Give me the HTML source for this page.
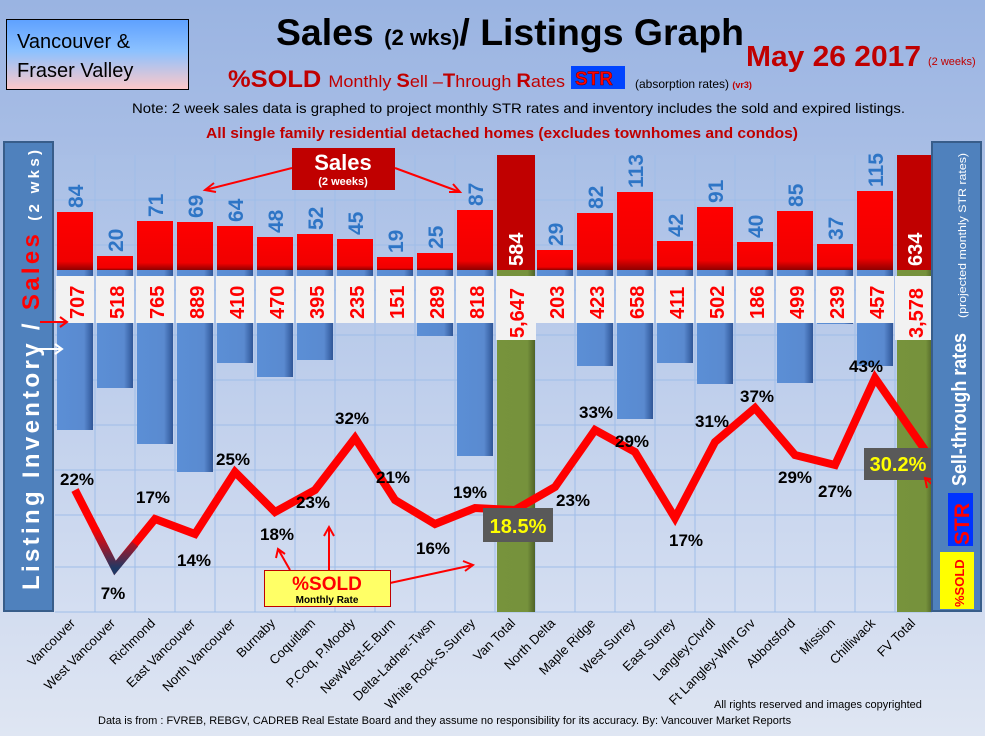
<!DOCTYPE html>
<html><head><meta charset="utf-8"><style>
html,body{margin:0;padding:0;width:985px;height:736px;overflow:hidden}
svg{display:block}
text{font-family:"Liberation Sans",sans-serif}
</style></head><body>
<svg width="985" height="736" viewBox="0 0 985 736" xmlns="http://www.w3.org/2000/svg">
<defs>
<linearGradient id="bg" x1="0" y1="0" x2="0" y2="1"><stop offset="0" stop-color="#9ab4e2"/><stop offset="0.5" stop-color="#bccbea"/><stop offset="1" stop-color="#dfe6f3"/></linearGradient>
<linearGradient id="pl" x1="0" y1="0" x2="0" y2="1"><stop offset="0" stop-color="#a9bfe6"/><stop offset="1" stop-color="#d4def1"/></linearGradient>
<linearGradient id="vb" x1="0" y1="0" x2="0" y2="1"><stop offset="0" stop-color="#5ea1ff"/><stop offset="0.45" stop-color="#8cc1ff"/><stop offset="1" stop-color="#ffc8c8"/></linearGradient>
<linearGradient id="bl" x1="0" y1="0" x2="1" y2="0"><stop offset="0" stop-color="#5b8fd6"/><stop offset="0.75" stop-color="#5a8ad0"/><stop offset="1" stop-color="#2f5597"/></linearGradient>
<linearGradient id="rd" x1="0" y1="0" x2="0" y2="1"><stop offset="0" stop-color="#ff0000"/><stop offset="0.85" stop-color="#f00000"/><stop offset="1" stop-color="#900000"/></linearGradient>
<linearGradient id="gr" x1="0" y1="0" x2="1" y2="0"><stop offset="0" stop-color="#77933c"/><stop offset="0.8" stop-color="#76923c"/><stop offset="1" stop-color="#4f6228"/></linearGradient>
<linearGradient id="wv" x1="0" y1="0" x2="0" y2="1"><stop offset="0" stop-color="#ff0000"/><stop offset="1" stop-color="#1f3864"/></linearGradient>
</defs>
<rect width="985" height="736" fill="url(#bg)"/>
<rect x="55" y="155" width="877" height="457" fill="url(#pl)"/>
<g stroke="#9fbde8" stroke-width="1">
<line x1="55" y1="200" x2="932" y2="200"/><line x1="55" y1="245" x2="932" y2="245"/><line x1="55" y1="290" x2="932" y2="290"/><line x1="55" y1="335" x2="932" y2="335"/><line x1="55" y1="380" x2="932" y2="380"/><line x1="55" y1="425" x2="932" y2="425"/><line x1="55" y1="470" x2="932" y2="470"/><line x1="55" y1="515" x2="932" y2="515"/><line x1="55" y1="567" x2="932" y2="567"/><line x1="55" y1="612" x2="932" y2="612"/>
<line x1="95" y1="155" x2="95" y2="612"/><line x1="135" y1="155" x2="135" y2="612"/><line x1="175" y1="155" x2="175" y2="612"/><line x1="215" y1="155" x2="215" y2="612"/><line x1="255" y1="155" x2="255" y2="612"/><line x1="295" y1="155" x2="295" y2="612"/><line x1="335" y1="155" x2="335" y2="612"/><line x1="375" y1="155" x2="375" y2="612"/><line x1="415" y1="155" x2="415" y2="612"/><line x1="455" y1="155" x2="455" y2="612"/><line x1="495" y1="155" x2="495" y2="612"/><line x1="535" y1="155" x2="535" y2="612"/><line x1="575" y1="155" x2="575" y2="612"/><line x1="615" y1="155" x2="615" y2="612"/><line x1="655" y1="155" x2="655" y2="612"/><line x1="695" y1="155" x2="695" y2="612"/><line x1="735" y1="155" x2="735" y2="612"/><line x1="775" y1="155" x2="775" y2="612"/><line x1="815" y1="155" x2="815" y2="612"/><line x1="855" y1="155" x2="855" y2="612"/><line x1="895" y1="155" x2="895" y2="612"/>
</g>
<!-- title -->
<rect x="6.5" y="19.5" width="182" height="70" fill="url(#vb)" stroke="#000"/>
<text x="17" y="48" font-size="20" fill="#000">Vancouver &amp;</text>
<text x="17" y="77" font-size="20" fill="#000">Fraser Valley</text>
<text x="276" y="45" font-size="37" font-weight="bold" fill="#000" textLength="468" lengthAdjust="spacingAndGlyphs">Sales <tspan font-size="22">(2 wks)</tspan>/ Listings Graph</text>
<text x="746" y="66" font-size="29" font-weight="bold" fill="#c00000" textLength="175" lengthAdjust="spacingAndGlyphs">May 26 2017</text>
<text x="928" y="65" font-size="11" fill="#c00000">(2 weeks)</text>
<text x="228" y="87" font-size="24" font-weight="bold" fill="#c00000" textLength="337" lengthAdjust="spacingAndGlyphs">%SOLD <tspan font-size="17" font-weight="normal">Monthly </tspan><tspan font-size="19" font-weight="bold">S</tspan><tspan font-size="17" font-weight="normal">ell –</tspan><tspan font-size="19">T</tspan><tspan font-size="17" font-weight="normal">hrough </tspan><tspan font-size="19">R</tspan><tspan font-size="17" font-weight="normal">ates</tspan></text>
<rect x="571" y="66" width="54" height="23" fill="#0044ff"/>
<text x="575" y="85" font-size="19" font-weight="bold" fill="#ff0000" stroke="#600" stroke-width="0.5">STR</text>
<text x="635" y="88" font-size="12" fill="#000">(absorption rates) <tspan fill="#c00000" font-weight="bold" font-size="9">(vr3)</tspan></text>
<text x="132" y="113" font-size="14" fill="#000" textLength="773" lengthAdjust="spacingAndGlyphs">Note: 2 week sales data is graphed to project monthly STR rates and inventory includes the sold and expired listings.</text>
<text x="206" y="138" font-size="15" font-weight="bold" fill="#c00000" textLength="592" lengthAdjust="spacingAndGlyphs">All single family residential detached homes (excludes townhomes and condos)</text>
<!-- blue bars -->
<g fill="url(#bl)">
<rect x="57" y="270" width="36" height="160"/><rect x="97" y="270" width="36" height="118"/><rect x="137" y="270" width="36" height="174"/><rect x="177" y="270" width="36" height="202"/><rect x="217" y="270" width="36" height="93"/><rect x="257" y="270" width="36" height="107"/><rect x="297" y="270" width="36" height="90"/><rect x="337" y="270" width="36" height="53"/><rect x="377" y="270" width="36" height="34"/><rect x="417" y="270" width="36" height="66"/><rect x="457" y="270" width="36" height="186"/><rect x="537" y="270" width="36" height="46"/><rect x="577" y="270" width="36" height="96"/><rect x="617" y="270" width="36" height="149"/><rect x="657" y="270" width="36" height="93"/><rect x="697" y="270" width="36" height="114"/><rect x="737" y="270" width="36" height="42"/><rect x="777" y="270" width="36" height="113"/><rect x="817" y="270" width="36" height="54"/><rect x="857" y="270" width="36" height="96"/>
</g>
<!-- red bars -->
<g fill="url(#rd)">
<rect x="57" y="212" width="36" height="58"/><rect x="97" y="256" width="36" height="14"/><rect x="137" y="221" width="36" height="49"/><rect x="177" y="222" width="36" height="48"/><rect x="217" y="226" width="36" height="44"/><rect x="257" y="237" width="36" height="33"/><rect x="297" y="234" width="36" height="36"/><rect x="337" y="239" width="36" height="31"/><rect x="377" y="257" width="36" height="13"/><rect x="417" y="253" width="36" height="17"/><rect x="457" y="210" width="36" height="60"/><rect x="537" y="250" width="36" height="20"/><rect x="577" y="213" width="36" height="57"/><rect x="617" y="192" width="36" height="78"/><rect x="657" y="241" width="36" height="29"/><rect x="697" y="207" width="36" height="63"/><rect x="737" y="242" width="36" height="28"/><rect x="777" y="211" width="36" height="59"/><rect x="817" y="244" width="36" height="26"/><rect x="857" y="191" width="36" height="79"/>
</g>
<!-- totals -->
<rect x="497" y="155" width="38" height="115" fill="#c00000"/><rect x="497" y="270" width="38" height="342" fill="url(#gr)"/>
<rect x="897" y="155" width="36" height="115" fill="#c00000"/><rect x="897" y="270" width="36" height="342" fill="url(#gr)"/>
<!-- sales labels -->
<g font-size="21" font-weight="bold" fill="#2e75c6">
<text transform="translate(83,208) rotate(-90)">84</text><text transform="translate(123,252) rotate(-90)">20</text><text transform="translate(163,217) rotate(-90)">71</text><text transform="translate(203,218) rotate(-90)">69</text><text transform="translate(243,222) rotate(-90)">64</text><text transform="translate(283,233) rotate(-90)">48</text><text transform="translate(323,230) rotate(-90)">52</text><text transform="translate(363,235) rotate(-90)">45</text><text transform="translate(403,253) rotate(-90)">19</text><text transform="translate(443,249) rotate(-90)">25</text><text transform="translate(483,206) rotate(-90)">87</text><text transform="translate(563,246) rotate(-90)">29</text><text transform="translate(603,209) rotate(-90)">82</text><text transform="translate(643,188) rotate(-90)">113</text><text transform="translate(683,237) rotate(-90)">42</text><text transform="translate(723,203) rotate(-90)">91</text><text transform="translate(763,238) rotate(-90)">40</text><text transform="translate(803,207) rotate(-90)">85</text><text transform="translate(843,240) rotate(-90)">37</text><text transform="translate(883,187) rotate(-90)">115</text>
</g>
<g font-size="20" font-weight="bold" fill="#fff">
<text transform="translate(523,266) rotate(-90)">584</text><text transform="translate(922,266) rotate(-90)">634</text>
</g>
<!-- inventory boxes -->
<g fill="#f2f2f2">
<rect x="56" y="276" width="38" height="47"/><rect x="96" y="276" width="38" height="47"/><rect x="136" y="276" width="38" height="47"/><rect x="176" y="276" width="38" height="47"/><rect x="216" y="276" width="38" height="47"/><rect x="256" y="276" width="38" height="47"/><rect x="296" y="276" width="38" height="47"/><rect x="336" y="276" width="38" height="47"/><rect x="376" y="276" width="38" height="47"/><rect x="416" y="276" width="38" height="47"/><rect x="456" y="276" width="38" height="47"/><rect x="496" y="276" width="40" height="64"/><rect x="536" y="276" width="38" height="47"/><rect x="576" y="276" width="38" height="47"/><rect x="616" y="276" width="38" height="47"/><rect x="656" y="276" width="38" height="47"/><rect x="696" y="276" width="38" height="47"/><rect x="736" y="276" width="38" height="47"/><rect x="776" y="276" width="38" height="47"/><rect x="816" y="276" width="38" height="47"/><rect x="856" y="276" width="38" height="47"/><rect x="895" y="276" width="40" height="64"/>
</g>
<g font-size="20" font-weight="bold" fill="#ff0000">
<text transform="translate(84,319) rotate(-90)">707</text><text transform="translate(124,319) rotate(-90)">518</text><text transform="translate(164,319) rotate(-90)">765</text><text transform="translate(204,319) rotate(-90)">889</text><text transform="translate(244,319) rotate(-90)">410</text><text transform="translate(284,319) rotate(-90)">470</text><text transform="translate(324,319) rotate(-90)">395</text><text transform="translate(364,319) rotate(-90)">235</text><text transform="translate(404,319) rotate(-90)">151</text><text transform="translate(444,319) rotate(-90)">289</text><text transform="translate(484,319) rotate(-90)">818</text><text transform="translate(524,338) rotate(-90)">5,647</text><text transform="translate(564,319) rotate(-90)">203</text><text transform="translate(604,319) rotate(-90)">423</text><text transform="translate(644,319) rotate(-90)">658</text><text transform="translate(684,319) rotate(-90)">411</text><text transform="translate(724,319) rotate(-90)">502</text><text transform="translate(764,319) rotate(-90)">186</text><text transform="translate(804,319) rotate(-90)">499</text><text transform="translate(844,319) rotate(-90)">239</text><text transform="translate(884,319) rotate(-90)">457</text><text transform="translate(923,338) rotate(-90)">3,578</text>
</g>
<!-- line -->
<polyline points="75,490 115,568 155,519 195,534 235,472 275,512 315,490 355,438 395,500 435,524 475,508 515,510 555,487 595,430 635,452 675,518 715,442 755,408 795,455 835,465 875,378 925,450" fill="none" stroke="#ff0000" stroke-width="8" stroke-linejoin="miter"/>
<polyline points="95,529 115,568 135,544" fill="none" stroke="url(#wv)" stroke-width="8"/>
<!-- pct labels -->
<g font-size="17" font-weight="bold" fill="#000" text-anchor="middle">
<text x="77" y="485">22%</text><text x="113" y="599">7%</text><text x="153" y="503">17%</text><text x="194" y="566">14%</text><text x="233" y="465">25%</text><text x="277" y="540">18%</text><text x="313" y="508">23%</text><text x="352" y="424">32%</text><text x="393" y="483">21%</text><text x="433" y="554">16%</text><text x="470" y="498">19%</text><text x="573" y="506">23%</text><text x="596" y="418">33%</text><text x="632" y="447">29%</text><text x="686" y="546">17%</text><text x="712" y="427">31%</text><text x="757" y="402">37%</text><text x="795" y="483">29%</text><text x="835" y="497">27%</text><text x="866" y="372">43%</text>
</g>
<rect x="483" y="508" width="70" height="34" fill="#595959"/>
<text x="518" y="533" font-size="20" font-weight="bold" fill="#ffff00" text-anchor="middle">18.5%</text>
<rect x="864" y="448" width="68" height="32" fill="#595959"/>
<text x="898" y="471" font-size="20" font-weight="bold" fill="#ffff00" text-anchor="middle">30.2%</text>
<!-- annotations -->
<rect x="292" y="148" width="103" height="42" fill="#c00000"/>
<text x="343" y="170" font-size="22" font-weight="bold" fill="#fff" text-anchor="middle">Sales</text>
<text x="343" y="185" font-size="11" font-weight="bold" fill="#fff" text-anchor="middle">(2 weeks)</text>
<g stroke="#ff0000" stroke-width="2" fill="none">
<line x1="292" y1="168" x2="205" y2="190"/><polyline points="214,183 205,190 216,192"/>
<line x1="395" y1="168" x2="460" y2="192"/><polyline points="449,192 460,192 453,184"/>
<line x1="290" y1="570" x2="278" y2="549"/><polyline points="276,558 278,549 285,554"/>
<line x1="329" y1="570" x2="329" y2="527"/><polyline points="324,536 329,527 334,536"/>
<line x1="390" y1="583" x2="473" y2="565"/><polyline points="463,561 473,565 465,571"/>
<line x1="950" y1="500" x2="925" y2="478"/><polyline points="927,488 925,478 935,480"/>
</g>
<rect x="264.5" y="570.5" width="126" height="36" fill="#ffff66" stroke="#c00000"/>
<text x="327" y="590" font-size="19" font-weight="bold" fill="#ff0000" text-anchor="middle">%SOLD</text>
<text x="327" y="603" font-size="10" font-weight="bold" fill="#000" text-anchor="middle">Monthly Rate</text>
<!-- side panels -->
<rect x="4" y="142" width="49" height="469" fill="#4f81bd" stroke="#385d8a" stroke-width="2"/>
<text transform="translate(39,590) rotate(-90)" font-size="24" font-weight="bold" fill="#fff" textLength="440" lengthAdjust="spacing">Listing Inventory / <tspan fill="#ff0000">Sales</tspan> <tspan font-size="15">(2  wks)</tspan></text>
<g stroke-width="2" fill="none">
<g stroke="#ff0000"><line x1="40" y1="322" x2="67" y2="322"/><polyline points="60,317 67,322 60,327"/></g>
<g stroke="#fff"><line x1="38" y1="349" x2="62" y2="349"/><polyline points="55,344 62,349 55,354"/></g>
</g>
<rect x="932" y="142" width="49" height="469" fill="#4f81bd" stroke="#385d8a" stroke-width="2"/>
<text transform="translate(966,486) rotate(-90)" font-size="20" font-weight="bold" fill="#fff" textLength="153" lengthAdjust="spacingAndGlyphs">Sell-through rates</text>
<text transform="translate(966,318) rotate(-90)" font-size="11" fill="#fff" textLength="165" lengthAdjust="spacingAndGlyphs">(projected monthly STR rates)</text>
<rect x="948" y="493" width="25" height="53" fill="#0033ff"/>
<text transform="translate(969,545) rotate(-90)" font-size="21" font-weight="bold" fill="#ff0000">STR</text>
<rect x="940" y="552" width="34" height="57" fill="#ffff00"/>
<text transform="translate(964,607) rotate(-90)" font-size="13" font-weight="bold" fill="#ff0000">%SOLD</text>
<!-- category labels -->
<g font-size="13" fill="#000" text-anchor="end">
<text transform="translate(76,624) rotate(-45)">Vancouver</text><text transform="translate(116,624) rotate(-45)">West Vancouver</text><text transform="translate(156,624) rotate(-45)">Richmond</text><text transform="translate(196,624) rotate(-45)">East Vancouver</text><text transform="translate(236,624) rotate(-45)">North Vancouver</text><text transform="translate(276,624) rotate(-45)">Burnaby</text><text transform="translate(316,624) rotate(-45)">Coquitlam</text><text transform="translate(356,624) rotate(-45)">P.Coq, P.Moody</text><text transform="translate(396,624) rotate(-45)">NewWest-E.Burn</text><text transform="translate(436,624) rotate(-45)">Delta-Ladner-Twsn</text><text transform="translate(476,624) rotate(-45)">White Rock-S.Surrey</text><text transform="translate(516,624) rotate(-45)">Van Total</text><text transform="translate(556,624) rotate(-45)">North Delta</text><text transform="translate(596,624) rotate(-45)">Maple Ridge</text><text transform="translate(636,624) rotate(-45)">West Surrey</text><text transform="translate(676,624) rotate(-45)">East Surrey</text><text transform="translate(716,624) rotate(-45)">Langley,Clvrdl</text><text transform="translate(756,624) rotate(-45)">Ft Langley-Wlnt Grv</text><text transform="translate(796,624) rotate(-45)">Abbotsford</text><text transform="translate(836,624) rotate(-45)">Mission</text><text transform="translate(876,624) rotate(-45)">Chilliwack</text><text transform="translate(916,624) rotate(-45)">FV Total</text>
</g>
<text x="714" y="708" font-size="11" fill="#000">All rights reserved and  images copyrighted</text>
<text x="98" y="724" font-size="11" fill="#000">Data is from : FVREB, REBGV, CADREB Real Estate Board and they assume no responsibility for its accuracy. By: Vancouver Market Reports</text>
</svg>
</body></html>
